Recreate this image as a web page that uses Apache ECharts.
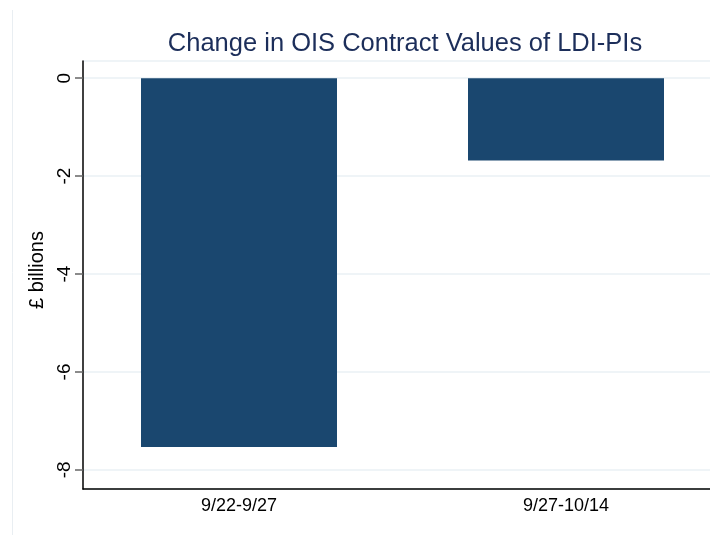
<!DOCTYPE html>
<html>
<head>
<meta charset="utf-8">
<script src="https://cdn.jsdelivr.net/npm/echarts@6/dist/echarts.min.js"></script>
<style>
  html, body { margin: 0; padding: 0; background: #fff; }
  #main { width: 710px; height: 535px; }
</style>
</head>
<body>
<div id="main"></div>
<script>
const categories = ['9/22-9/27', '9/27-10/14'];
const values = [-7.53, -1.68];
const yTicks = [0, -2, -4, -6, -8];

const barColor = '#1a476f';
const yMin = -8.39, yMax = 0.35;
const font = 'Liberation Sans, Arial';

const chart = echarts.init(document.getElementById('main'));
chart.setOption({
  animation: false,
  title: {
    text: 'Change in OIS Contract Values of LDI-PIs',
    left: 400,
    textAlign: 'center',
    top: 26,
    textStyle: { fontFamily: font, fontSize: 25.5, fontWeight: 'normal', color: '#1c2e5a' }
  },
  graphic: [{
    type: 'line',
    shape: { x1: 12.5, y1: 10, x2: 12.5, y2: 535 },
    style: { stroke: '#e9eef2', lineWidth: 1 }
  }],
  // grid 0 = axes frame; grid 1 spans bar centre to bar centre (Stata places bars off-centre)
  grid: [
    { left: 83, right: 0, top: 61, bottom: 46 },
    { left: 239, right: 144, top: 61, bottom: 46 }
  ],
  xAxis: [{
    type: 'value',
    gridIndex: 0,
    min: 0, max: 1,
    axisLine: { show: true, onZero: false, lineStyle: { color: '#000', width: 1.5 } },
    axisTick: { show: false },
    axisLabel: { show: false },
    splitLine: { show: false }
  }, {
    type: 'category',
    gridIndex: 1,
    data: categories,
    boundaryGap: false,
    axisLine: { show: false },
    axisTick: { show: false },
    axisLabel: { fontFamily: font, fontSize: 18, color: '#000', margin: 8 }
  }],
  yAxis: [{
    type: 'value',
    gridIndex: 0,
    min: yMin,
    max: yMax,
    name: '£ billions',
    nameLocation: 'middle',
    nameGap: 32,
    nameTextStyle: { fontFamily: font, fontSize: 20, color: '#000', padding: [0, 0, 0, 10] },
    axisLine: { show: true, lineStyle: { color: '#000', width: 1.5 } },
    axisTick: { show: true, length: 8, lineStyle: { color: '#666', width: 1.5 } },
    splitLine: { show: true, lineStyle: { color: '#eaf0f4', width: 1.5 } },
    axisLabel: {
      fontFamily: font, fontSize: 19, color: '#000', rotate: 90, margin: 9,
      showMinLabel: false, showMaxLabel: false,
      formatter: v => yTicks.includes(v) ? String(v) : ''
    }
  }, {
    type: 'value',
    gridIndex: 1,
    min: yMin,
    max: yMax,
    show: false
  }],
  series: [{
    type: 'bar',
    xAxisIndex: 1,
    yAxisIndex: 1,
    data: values,
    barWidth: 196,
    clip: false,
    itemStyle: { color: barColor }
  }]
});
</script>
</body>
</html>
